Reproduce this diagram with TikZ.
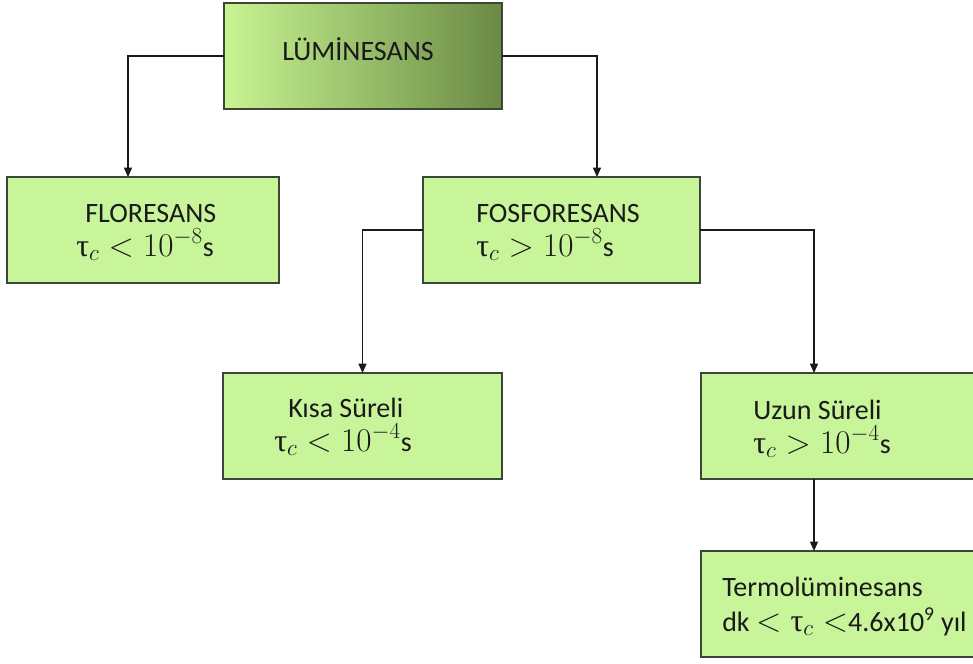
\documentclass[tikz,border=0pt]{standalone}
\usepackage{fontspec}
\setmainfont{Carlito}
\newfontfamily\grk{Liberation Serif}
\usetikzlibrary{arrows.meta}

\definecolor{boxfill}{HTML}{C8F59A}
\definecolor{boxline}{HTML}{3C4636}
\definecolor{gradlight}{HTML}{C8F492}
\definecolor{gradmid}{HTML}{B6DE86}
\definecolor{graddark}{HTML}{6A8A44}
\definecolor{ink}{HTML}{1A1A1A}

% upright tau with an italic subscript c, set a little larger than the text
\newcommand{\tauc}{\hbox{\grk τ}_{c}}
\newcommand{\mth}[1]{{\fontsize{24}{28}\selectfont$#1$}}

\tikzset{
  box/.style={draw=boxline, line width=1pt, fill=boxfill, inner sep=0pt,
              outer sep=0pt, minimum height=79.5pt},
  lbl/.style={anchor=base west, inner sep=0pt, text=ink,
              font=\fontsize{21}{25}\selectfont},
  conn/.style={draw=ink, line width=0.9pt,
               -{Triangle[width=6pt,length=7pt]}}
}

\begin{document}
\begin{tikzpicture}[x=0.75pt, y=-0.75pt]
  \useasboundingbox (0,0) rectangle (973,663);
  \clip (0,0) rectangle (973,663);

  % boxes
  \node[box, minimum width=208.5pt, fill=none,
        left color=gradlight, middle color=gradmid, right color=graddark]
        (lum) at (363,56) {};
  \node[box, minimum width=204pt]   (flo)   at (143,230) {};
  \node[box, minimum width=207.75pt] (fos)  at (561.5,230) {};
  \node[box, minimum width=209.25pt] (kisa) at (362.5,426) {};
  \node[box, minimum width=217.5pt] (uzun)  at (846,426) {};
  \node[box, minimum width=217.5pt] (termo) at (846,604) {};

  % labels
  \node[lbl] (lumt)   at (282,61)  {LÜMİNESANS};
  \node[lbl] (flot)   at (85,222)  {FLORESANS};
  \node[lbl] (flom)   at (76,256)  {\mth{\tauc < 10^{-8}}s};
  \node[lbl] (fost)   at (476,222) {FOSFORESANS};
  \node[lbl] (fosm)   at (476,256) {\mth{\tauc > 10^{-8}}s};
  \node[lbl] (kisat)  at (288,417) {Kısa Süreli};
  \node[lbl] (kisam)  at (274,451) {\mth{\tauc < 10^{-4}}s};
  \node[lbl] (uzunt)  at (753,419) {Uzun Süreli};
  \node[lbl] (uzunm)  at (753,453) {\mth{\tauc > 10^{-4}}s};
  \node[lbl] (termot) at (722,596) {Termolüminesans};
  \node[lbl] (termom) at (722,631) {dk \mth{< \tauc <}4.6x10\textsuperscript{9} yıl};

  % connectors
  \draw[conn] (lum.west) -| ([xshift=-11.25pt]flo.north);
  \draw[conn] (lum.east) -| ([xshift=26.6pt]fos.north);
  \draw[conn] (fos.west) -| (kisa.north);
  \draw[conn] (fos.east) -| ([xshift=-24pt]uzun.north);
  \draw[conn] ([xshift=-24pt]uzun.south) -- ([xshift=-24pt]termo.north);
\end{tikzpicture}
\end{document}
